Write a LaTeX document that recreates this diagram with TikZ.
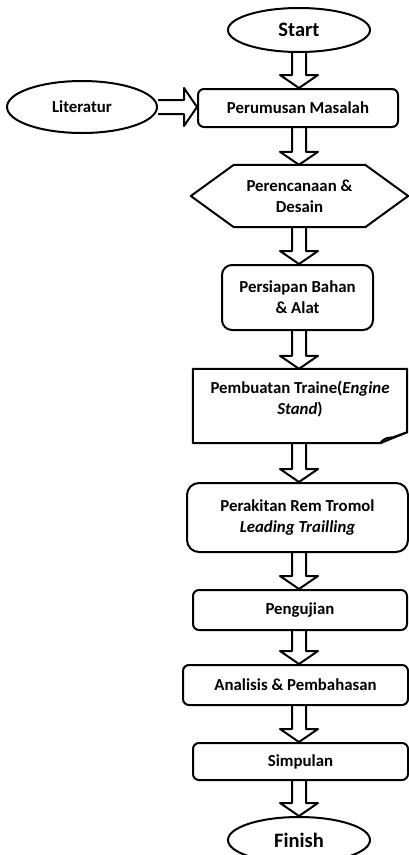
\documentclass[tikz,border=0pt]{standalone}
\usepackage{fontspec}
\setmainfont{Carlito}
\usepackage{tikz}
\usetikzlibrary{shapes.geometric, calc}

\newcommand{\stepfont}{\fontsize{16.8}{21}\selectfont\bfseries}
\newcommand{\termfont}{\fontsize{20.5}{24}\selectfont\bfseries}

% hollow block arrow from #1 to #2
\newcommand{\flowarrow}[2]{%
    \path (#1) coordinate (s) (#2) coordinate (t) ($(t)!13pt!(s)$) coordinate (h);
    \draw[boxline] ($(s)!7pt!90:(t)$) -- ($(h)!7pt!90:(t)$) -- ($(h)!19pt!90:(t)$) -- (t)
        -- ($(h)!19pt!-90:(t)$) -- ($(h)!7pt!-90:(t)$) -- ($(s)!7pt!-90:(t)$);
}

\tikzset{
    boxline/.style={line width=2pt, line join=round},
    stepbox/.style={draw, boxline, rounded corners=6pt, align=center, inner sep=0pt},
    ovalbox/.style={draw, boxline, ellipse, inner sep=0pt},
}

\begin{document}
\begin{tikzpicture}[x=1pt, y=-1pt, every node/.style={font=\stepfont}]
    \useasboundingbox (0,0) rectangle (409,855);
    \coordinate (col) at (299,0);

    \node[ovalbox, minimum width=142pt, minimum height=44pt, font=\termfont] (start) at (299,30) {Start};
    \node[stepbox, minimum width=200pt, minimum height=38pt] (perumusan) at (298,108) {Perumusan Masalah};
    \node[ovalbox, minimum width=150pt, minimum height=52pt] (literatur) at (82,107) {Literatur};

    \node[align=center, minimum width=217pt, minimum height=62pt, inner sep=0pt] (desain) at (299.5,196) {Perencanaan \&\\Desain};
    \draw[boxline] (desain.west) -- ([xshift=43pt]desain.north west) -- ([xshift=-43pt]desain.north east)
        -- (desain.east) -- ([xshift=-43pt]desain.south east) -- ([xshift=43pt]desain.south west) -- cycle;

    \node[stepbox, rounded corners=10pt, minimum width=151pt, minimum height=65pt] (persiapan) at (297.5,297.5) {Persiapan Bahan\\\& Alat};

    \node[align=center, minimum width=214pt, minimum height=74pt, inner sep=0pt, text depth=16pt] (traine) at (300,406) {Pembuatan Traine(\textit{Engine}\\\textit{Stand})};
    \draw[boxline] ([xshift=-27pt]traine.south east) -- (traine.south west) -- (traine.north west)
        -- (traine.north east) -- ([yshift=11pt]traine.south east) -- cycle;
    \draw[boxline] ([xshift=-27pt]traine.south east) .. controls +(5,-6) and +(-6,1) .. ([xshift=-14pt,yshift=6pt]traine.south east)
        -- ([yshift=11pt]traine.south east);

    \node[stepbox, rounded corners=12pt, minimum width=221pt, minimum height=69pt] (perakitan) at (297.5,517.5) {Perakitan Rem Tromol\\\textit{Leading Trailling}};
    \node[stepbox, minimum width=214pt, minimum height=40pt] (pengujian) at (300,610) {Pengujian};
    \node[stepbox, minimum width=225pt, minimum height=40pt] (analisis) at (295.5,685) {Analisis \& Pembahasan};
    \node[stepbox, minimum width=215pt, minimum height=37pt] (simpulan) at (300.5,761.5) {Simpulan};
    \node[ovalbox, minimum width=142pt, minimum height=46pt, font=\termfont] (finish) at (299,840) {Finish};

    % connectors
    \flowarrow{col |- start.south}{col |- perumusan.north}
    \flowarrow{literatur.east}{perumusan.west |- literatur.east}
    \flowarrow{col |- perumusan.south}{col |- desain.north}
    \flowarrow{col |- desain.south}{col |- persiapan.north}
    \flowarrow{col |- persiapan.south}{col |- traine.north}
    \flowarrow{col |- traine.south}{col |- perakitan.north}
    \flowarrow{col |- perakitan.south}{col |- pengujian.north}
    \flowarrow{col |- pengujian.south}{col |- analisis.north}
    \flowarrow{col |- analisis.south}{col |- simpulan.north}
    \flowarrow{col |- simpulan.south}{col |- finish.north}
\end{tikzpicture}
\end{document}
